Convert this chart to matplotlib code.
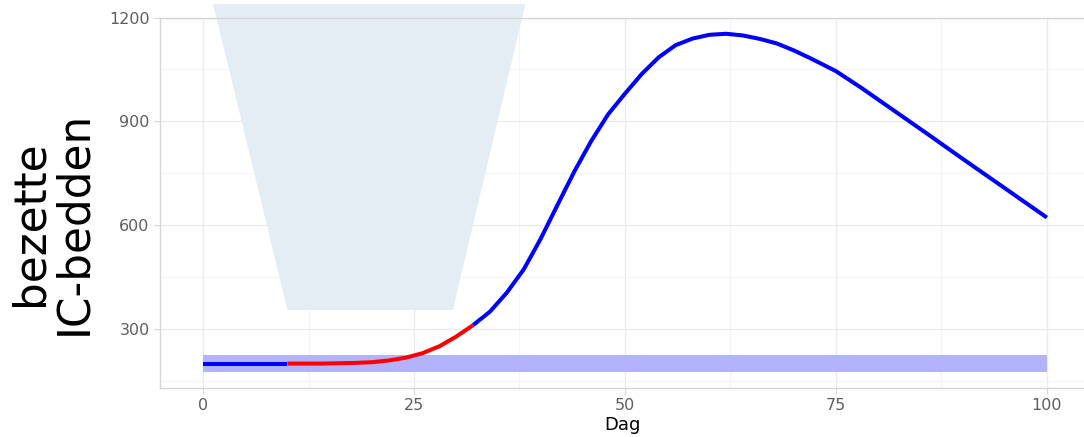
import numpy as np
import matplotlib
matplotlib.use("Agg")
import matplotlib.pyplot as plt
from matplotlib.ticker import MultipleLocator

# occupied IC beds per day
days = [0, 10, 14, 18, 20, 22, 24, 26, 28, 30, 32, 34, 36, 38, 40, 42, 44,
        46, 48, 50, 52, 54, 56, 58, 60, 62, 64, 66, 68, 70, 72, 75, 78, 82,
        86, 90, 94, 97, 100]
beds = [200, 200, 200, 202, 204, 209, 217, 230, 250, 278, 311, 350, 405, 472,
        560, 658, 755, 843, 920, 980, 1037, 1085, 1120, 1139, 1150, 1153, 1148,
        1138, 1125, 1105, 1082, 1045, 997, 929, 861, 792, 724, 673, 622]

# red part of the curve
red_start = 10
red_end = 32

# capacity band
band_low = 175
band_high = 225
band_days = [0, 100]

# funnel shape (day, beds), sticks out above the plot
funnel_days = [1.2, 38.2, 29.6, 10.0]
funnel_beds = [1239, 1239, 355, 355]

x_ticks = [0, 25, 50, 75, 100]
y_ticks = [300, 600, 900, 1200]

fig = plt.figure(figsize=(10.84, 4.37), dpi=100)
ax = fig.add_axes([160 / 1084, 1 - 388 / 437, 1 - 160 / 1084, 370.5 / 437])

ax.set_xlim(-5.1, 104.4)
ax.set_ylim(129.5, 1200)

# grid
ax.xaxis.set_minor_locator(MultipleLocator(12.5))
ax.yaxis.set_minor_locator(MultipleLocator(150))
ax.grid(True, which="major", color="#ebebeb", lw=1.0, zorder=0)
ax.grid(True, which="minor", color="#f5f5f5", lw=0.8, zorder=0)
ax.set_axisbelow(True)
ax.set_xticks(x_ticks)
ax.set_yticks(y_ticks)

ax.fill(funnel_days, funnel_beds, color="#e3edf3", lw=0, zorder=1,
        clip_on=False)
ax.fill_between(band_days, band_low, band_high, color="#b3b3fb", lw=0, zorder=2)

d = np.array(days)
b = np.array(beds)
m1 = d <= red_start
m2 = (d >= red_start) & (d <= red_end)
m3 = d >= red_end
ax.plot(d[m1], b[m1], color="#0000ff", lw=2.9, solid_capstyle="butt", zorder=3)
ax.plot(d[m3], b[m3], color="#0000ff", lw=2.9, solid_capstyle="butt", zorder=3)
ax.plot(d[m2], b[m2], color="#ff0000", lw=2.9, solid_capstyle="butt", zorder=4)

ax.spines["right"].set_visible(False)
for s in ["left", "bottom", "top"]:
    ax.spines[s].set_color("#d6d6d6")
    ax.spines[s].set_linewidth(1.0)
    ax.spines[s].set_zorder(2.5)

ax.tick_params(which="major", length=4, color="#d4d4d4", labelsize=11.5,
               labelcolor="#5e5e5e")
ax.tick_params(which="minor", length=0)

ax.set_xlabel("Dag", fontsize=13, color="black", labelpad=2)
fig.text(52 / 1084, 1 - 223 / 437, "bezette\nIC-bedden", rotation=90,
         ha="center", va="center", multialignment="center", fontsize=31.5,
         color="black", linespacing=1.0)

fig.savefig("out.png", dpi=100)
